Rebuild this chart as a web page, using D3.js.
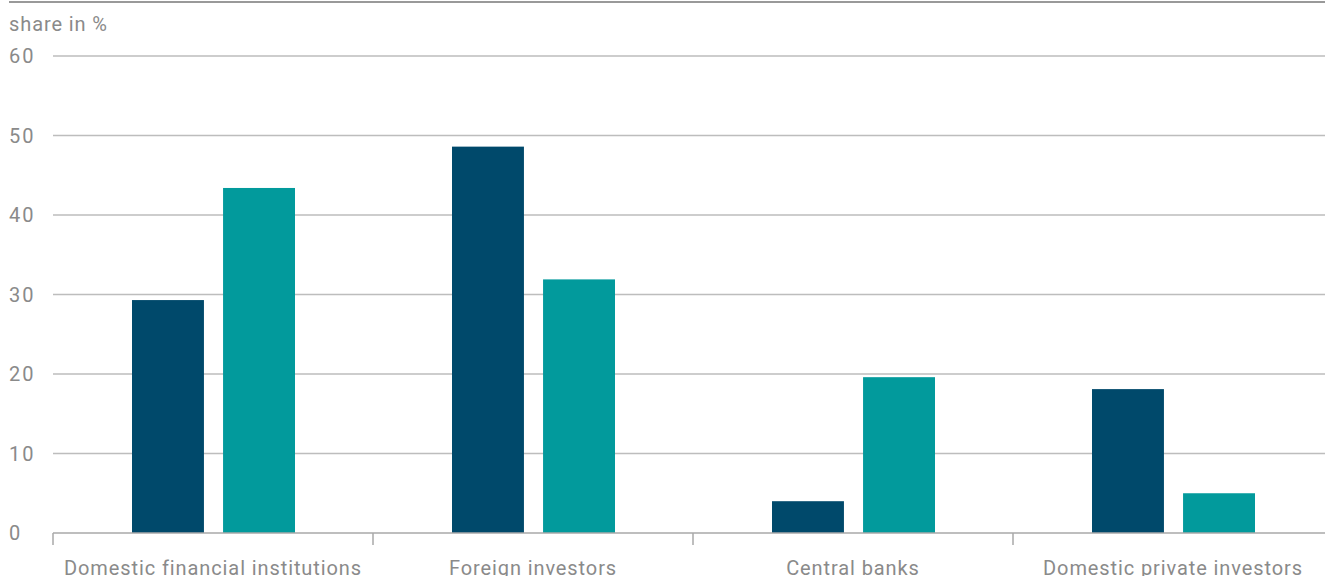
<!DOCTYPE html>
<html><head><meta charset="utf-8">
<script src="https://cdn.jsdelivr.net/npm/d3@7"></script>
<style>
body{margin:0;background:#fff;}
text{font-family:"Roboto","Liberation Sans",sans-serif;}
</style></head>
<body><svg id="c" width="1325" height="576"></svg>
<script>
const categories = ["Domestic financial institutions","Foreign investors","Central banks","Domestic private investors"];
const series1 = [29.3, 48.6, 4.0, 18.1];
const series2 = [43.4, 31.9, 19.6, 5.0];
const yTicks = [0,10,20,30,40,50,60];
const colors = ["#00496b","#029a9c"];

const svg = d3.select("#c");
const mLeft = 53, mRight = 1333, mTop = 56, mBottom = 533;
const x = d3.scaleBand().domain(categories).range([mLeft,mRight]).paddingInner(0).paddingOuter(0);
const y = d3.scaleLinear().domain([0,60]).range([mBottom,mTop]);
const inner = d3.scaleBand().domain([0,1]).range([79,242]).paddingInner(0.21);
const txtCol = "#8a8a8a";

// top rule
svg.append("line").attr("x1",9).attr("x2",1325).attr("y1",2).attr("y2",2).attr("stroke","#999").attr("stroke-width",2);
svg.append("text").attr("x",9).attr("y",31).attr("fill",txtCol).attr("font-size",20)
  .attr("letter-spacing","0.9px").text("share in %");

// grid
const g = svg.append("g");
g.selectAll("line.grid").data(yTicks.filter(d=>d>0)).join("line")
 .attr("x1",mLeft).attr("x2",1325).attr("y1",d=>y(d)).attr("y2",d=>y(d))
 .attr("stroke","#bdbdbd").attr("stroke-width",1.5);
g.selectAll("text.yl").data(yTicks).join("text")
 .attr("x",9).attr("y",d=>y(d)+7).attr("fill",txtCol).attr("font-size",20)
 .attr("letter-spacing","2px").text(d=>d);

// bars
categories.forEach((c,i)=>{
  [series1[i],series2[i]].forEach((v,j)=>{
    svg.append("rect").attr("x",x(c)+inner(j)).attr("width",inner.bandwidth())
      .attr("y",y(v)).attr("height",y(0)-y(v)).attr("fill",colors[j]);
  });
});

// x axis
svg.append("line").attr("x1",mLeft).attr("x2",1325).attr("y1",y(0)).attr("y2",y(0)).attr("stroke","#a8a8a8").attr("stroke-width",1.5);
const bounds = categories.map(c=>x(c));
svg.selectAll("line.tk").data(bounds).join("line")
 .attr("x1",d=>d).attr("x2",d=>d).attr("y1",y(0)).attr("y2",y(0)+12).attr("stroke","#a8a8a8").attr("stroke-width",1.5);
svg.selectAll("text.xl").data(categories).join("text")
 .attr("x",d=>x(d)+x.bandwidth()/2).attr("y",y(0)+42).attr("text-anchor","middle")
 .attr("fill",txtCol).attr("font-size",20).attr("letter-spacing","0.9px").text(d=>d);
</script></body></html>
